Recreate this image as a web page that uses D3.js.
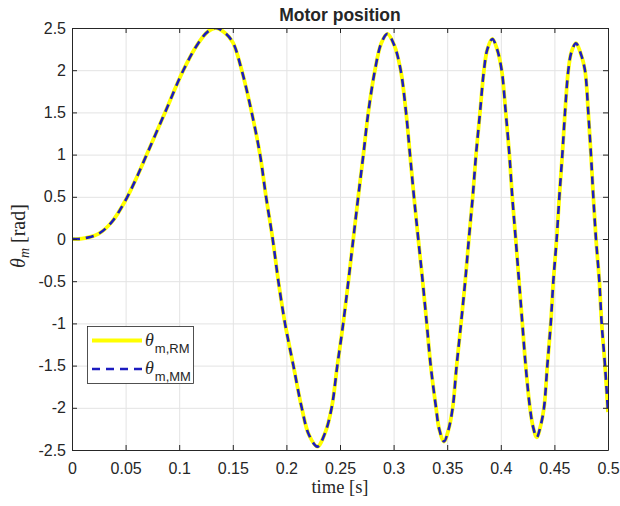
<!DOCTYPE html>
<html>
<head>
<meta charset="utf-8">
<script src="https://cdn.jsdelivr.net/npm/d3@7"></script>
<style>
  body { margin: 0; background: #fff; }
  svg text { fill: #262626; }
</style>
</head>
<body>
<svg id="chart" width="620" height="506"></svg>
<script>
// values
const timeS = [0, 0.006, 0.012, 0.0246, 0.037, 0.05, 0.06, 0.0697, 0.0868, 0.1039, 0.1178, 0.127, 0.1343,
  0.142, 0.15, 0.1583, 0.1676, 0.1754, 0.181, 0.1872, 0.1925, 0.1987, 0.2065, 0.2143, 0.221, 0.2289,
  0.236, 0.2422, 0.2475, 0.253, 0.2578, 0.2624, 0.267, 0.2718, 0.2764, 0.2826, 0.2885, 0.2942,
  0.3005, 0.3066, 0.3116, 0.3153, 0.319, 0.323, 0.3271, 0.3309, 0.3346, 0.3396, 0.3425, 0.347,
  0.351, 0.3551, 0.3588, 0.3629, 0.3668, 0.3702, 0.3738, 0.3769, 0.3806, 0.3843, 0.3875, 0.3921,
  0.3965, 0.4008, 0.4046, 0.408, 0.4107, 0.4139, 0.417, 0.4201, 0.4232, 0.4272, 0.43, 0.4335,
  0.437, 0.4403, 0.4434, 0.4466, 0.449, 0.4521, 0.4546, 0.4574, 0.4599, 0.463, 0.466, 0.4701,
  0.4745, 0.4785, 0.4816, 0.4841, 0.4863, 0.4888, 0.4919, 0.4941, 0.4972, 0.5];
const thetaRM = [0, 0, 0.01, 0.06, 0.2, 0.46, 0.72, 1.0, 1.5, 2.0, 2.32, 2.46, 2.5,
  2.45, 2.33, 2.0, 1.5, 1.0, 0.5, 0, -0.5, -1.0, -1.5, -2.0, -2.32, -2.46,
  -2.3, -2.0, -1.5, -1.0, -0.5, 0, 0.5, 1.0, 1.5, 2.0, 2.32, 2.43,
  2.3, 2.0, 1.5, 1.0, 0.5, 0, -0.5, -1.0, -1.5, -2.0, -2.25, -2.4,
  -2.27, -2.0, -1.5, -1.0, -0.5, 0, 0.5, 1.0, 1.5, 2.0, 2.25, 2.37,
  2.25, 2.0, 1.5, 1.0, 0.5, 0, -0.5, -1.0, -1.5, -2.0, -2.22, -2.35,
  -2.22, -2.0, -1.5, -1.0, -0.5, 0, 0.5, 1.0, 1.5, 2.0, 2.22, 2.32,
  2.2, 2.0, 1.5, 1.0, 0.5, 0, -0.5, -1.0, -1.5, -2.05];
const thetaMM = [0, 0, 0.01, 0.06, 0.2, 0.46, 0.72, 1.0, 1.5, 2.0, 2.32, 2.46, 2.5,
  2.45, 2.33, 2.0, 1.5, 1.0, 0.5, 0, -0.5, -1.0, -1.5, -2.0, -2.32, -2.46,
  -2.3, -2.0, -1.5, -1.0, -0.5, 0, 0.5, 1.0, 1.5, 2.0, 2.32, 2.43,
  2.3, 2.0, 1.5, 1.0, 0.5, 0, -0.5, -1.0, -1.5, -2.0, -2.25, -2.4,
  -2.27, -2.0, -1.5, -1.0, -0.5, 0, 0.5, 1.0, 1.5, 2.0, 2.25, 2.37,
  2.25, 2.0, 1.5, 1.0, 0.5, 0, -0.5, -1.0, -1.5, -2.0, -2.22, -2.35,
  -2.22, -2.0, -1.5, -1.0, -0.5, 0, 0.5, 1.0, 1.5, 2.0, 2.22, 2.32,
  2.2, 2.0, 1.5, 1.0, 0.5, 0, -0.5, -1.0, -1.5, -2.05];
const xTicks = [0, 0.05, 0.1, 0.15, 0.2, 0.25, 0.3, 0.35, 0.4, 0.45, 0.5];
const yTicks = [-2.5, -2, -1.5, -1, -0.5, 0, 0.5, 1, 1.5, 2, 2.5];

const svg = d3.select("#chart");
const mLeft = 72, mRight = 608, mTop = 28, mBottom = 450;
const w = mRight - mLeft, h = mBottom - mTop;
const axisColor = "#262626";

const x = d3.scaleLinear().domain([0, 0.5]).range([0, w]);
const y = d3.scaleLinear().domain([-2.5, 2.5]).range([h, 0]);

svg.append("defs").append("clipPath").attr("id", "clip")
  .append("rect").attr("width", w).attr("height", h);

const g = svg.append("g").attr("transform", `translate(${mLeft},${mTop})`);

// grid
g.append("g")
  .attr("transform", `translate(0,${h})`)
  .call(d3.axisBottom(x).tickValues(xTicks).tickSize(-h).tickFormat(""))
  .call((s) => s.select(".domain").remove())
  .selectAll("line").attr("stroke", "#e3e3e3");
g.append("g")
  .call(d3.axisLeft(y).tickValues(yTicks).tickSize(-w).tickFormat(""))
  .call((s) => s.select(".domain").remove())
  .selectAll("line").attr("stroke", "#e3e3e3");

// curves
const pts = (vals) => timeS.map((t, i) => [t, vals[i]]);
const line = d3.line()
  .x((d) => x(d[0]))
  .y((d) => y(d[1]))
  .curve(d3.curveCatmullRom.alpha(0.5));

const plot = g.append("g").attr("clip-path", "url(#clip)");
plot.append("path")
  .attr("d", line(pts(thetaRM)))
  .attr("fill", "none")
  .attr("stroke", "#ffff00")
  .attr("stroke-width", 3.8);
plot.append("path")
  .attr("d", line(pts(thetaMM)))
  .attr("fill", "none")
  .attr("stroke", "#1c1cc0")
  .attr("stroke-width", 2.6)
  .attr("stroke-dasharray", "8,6");

// axes (ticks pointing inward, as in MATLAB)
const styleAxis = (s) => {
  s.selectAll(".domain").attr("stroke", axisColor);
  s.selectAll(".tick line").attr("stroke", axisColor);
  s.selectAll("text")
    .attr("font-family", "'Liberation Sans', Arial, sans-serif")
    .attr("font-size", 16)
    .attr("fill", axisColor);
};
g.append("g").attr("transform", `translate(0,${h})`)
  .call(d3.axisBottom(x).tickValues(xTicks).tickSizeInner(-5).tickSizeOuter(0)
    .tickPadding(13).tickFormat((d) => String(d)))
  .call(styleAxis);
g.append("g")
  .call(d3.axisTop(x).tickValues(xTicks).tickSizeInner(-5).tickSizeOuter(0).tickFormat(""))
  .call(styleAxis);
g.append("g")
  .call(d3.axisLeft(y).tickValues(yTicks).tickSizeInner(-5).tickSizeOuter(0)
    .tickPadding(6).tickFormat((d) => String(d)))
  .call(styleAxis);
g.append("g").attr("transform", `translate(${w},0)`)
  .call(d3.axisRight(y).tickValues(yTicks).tickSizeInner(-5).tickSizeOuter(0).tickFormat(""))
  .call(styleAxis);

// title and labels
svg.append("text")
  .attr("x", mLeft + w / 2).attr("y", 21)
  .attr("text-anchor", "middle")
  .attr("font-family", "'Liberation Sans', Arial, sans-serif")
  .attr("font-weight", "bold")
  .attr("font-size", 17.5)
  .text("Motor position");

svg.append("text")
  .attr("x", mLeft + w / 2).attr("y", 493)
  .attr("text-anchor", "middle")
  .attr("font-family", "'Liberation Serif', 'DejaVu Serif', serif")
  .attr("font-size", 18.5)
  .text("time [s]");

const yl = svg.append("text")
  .attr("transform", "translate(25,236) rotate(-90)")
  .attr("text-anchor", "middle")
  .attr("font-family", "'Liberation Serif', 'DejaVu Serif', serif")
  .attr("font-size", 20);
yl.append("tspan").attr("font-style", "italic").text("θ");
yl.append("tspan").attr("font-style", "italic").attr("font-size", 14).attr("dy", 4).text("m");
yl.append("tspan").attr("dy", -4).text(" [rad]");

// legend
const legendItems = [
  { sub: "m,RM", color: "#ffff00", width: 3.8, dash: null, ly: 340.5 },
  { sub: "m,MM", color: "#1c1cc0", width: 2.6, dash: "8,6", ly: 369 }
];
const lg = svg.append("g");
lg.append("rect")
  .attr("x", 87.5).attr("y", 326.5).attr("width", 106).attr("height", 57)
  .attr("fill", "#fff").attr("stroke", axisColor).attr("stroke-width", 0.8);
legendItems.forEach((d) => {
  lg.append("line")
    .attr("x1", 92).attr("x2", 142).attr("y1", d.ly).attr("y2", d.ly)
    .attr("stroke", d.color).attr("stroke-width", d.width)
    .attr("stroke-dasharray", d.dash);
  const t = lg.append("text").attr("x", 145).attr("y", d.ly + 5);
  t.append("tspan")
    .attr("font-family", "'Liberation Serif', 'DejaVu Serif', serif")
    .attr("font-style", "italic").attr("font-size", 18).text("θ");
  t.append("tspan")
    .attr("font-family", "'Liberation Sans', Arial, sans-serif")
    .attr("font-size", 13).attr("dx", 1).attr("dy", 7).text(d.sub);
});
</script>
</body>
</html>
